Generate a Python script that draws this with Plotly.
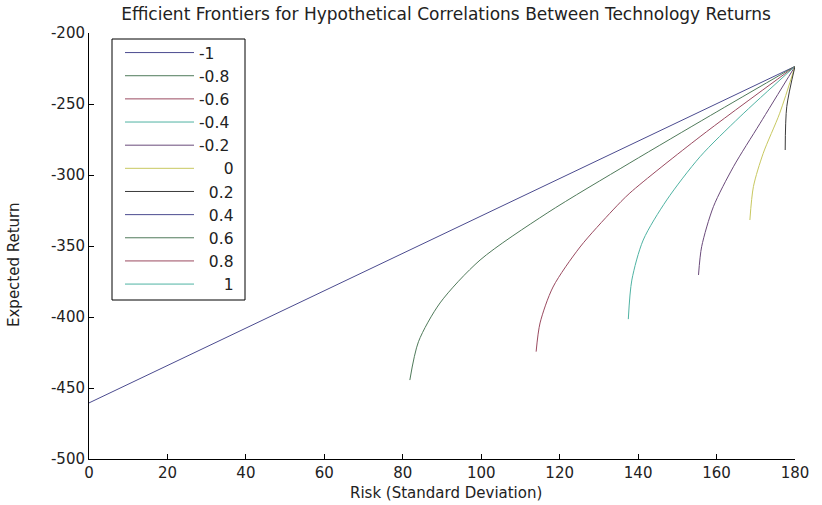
import plotly.graph_objects as go

# correlation labels (legend)
labels = ["-1", "-0.8", "-0.6", "-0.4", "-0.2", "0", "0.2", "0.4", "0.6", "0.8", "1"]
legend_text = ["-1", "-0.8", "-0.6", "-0.4", "-0.2",
               "\u00a0\u00a0\u00a0\u00a0\u00a00", "\u00a0\u00a00.2", "\u00a0\u00a00.4",
               "\u00a0\u00a00.6", "\u00a0\u00a00.8", "\u00a0\u00a0\u00a0\u00a0\u00a01"]

# axis ticks
x_ticks = [0, 20, 40, 60, 80, 100, 120, 140, 160, 180]
x_ticktext = ["0", "20", "40", "60", "80", "100", "120", "140", "160", "180"]
y_ticks = [-500, -450, -400, -350, -300, -250, -200]
y_ticktext = ["-500", "-450", "-400", "-350", "-300", "-250", "-200"]

# risk (x) and expected return (y) per correlation
risk_m10 = [0.0, 180.0]
ret_m10 = [-460.5, -223.5]
risk_m08 = [81.8, 84.0, 89.5, 99.7, 116.8, 137.9, 158.5, 180.0]
ret_m08 = [-444.4, -417.4, -390.1, -359.9, -326.8, -291.5, -258.0, -223.5]
risk_m06 = [114.0, 115.0, 118.3, 125.2, 133.6, 137.9, 155.8, 180.0]
ret_m06 = [-424.4, -404.2, -378.9, -350.7, -324.6, -312.7, -273.0, -223.5]
risk_m04 = [137.5, 138.4, 141.3, 147.3, 155.8, 166.0, 180.0]
ret_m04 = [-401.5, -374.0, -345.8, -317.6, -287.1, -258.9, -223.5]
risk_m02 = [155.4, 156.2, 159.2, 164.3, 171.1, 180.0]
ret_m02 = [-370.4, -350.5, -322.3, -294.2, -263.6, -223.5]
risk_p00 = [168.5, 169.4, 171.9, 176.1, 180.0]
ret_p00 = [-331.7, -308.2, -284.7, -256.5, -223.5]
risk_p02 = [177.5, 177.9, 180.0]
ret_p02 = [-282.4, -251.9, -223.5]
risk_p04 = [180.0]
ret_p04 = [-223.5]
risk_p06 = [180.0]
ret_p06 = [-223.5]
risk_p08 = [180.0]
ret_p08 = [-223.5]
risk_p10 = [180.0]
ret_p10 = [-223.5]

risks = [risk_m10, risk_m08, risk_m06, risk_m04, risk_m02, risk_p00,
         risk_p02, risk_p04, risk_p06, risk_p08, risk_p10]
rets = [ret_m10, ret_m08, ret_m06, ret_m04, ret_m02, ret_p00,
        ret_p02, ret_p04, ret_p06, ret_p08, ret_p10]

colors = ["#4b4b8f", "#4f7a5a", "#9a4a60", "#4fb3a3", "#6a4a7a", "#c8c860",
          "#3a3a3a", "#4b4b8f", "#4f7a5a", "#9a4a60", "#4fb3a3"]

FONT = "DejaVu Sans"
TXT = "#222"

fig = go.Figure()
for name, txt, xs, ys, c in zip(labels, legend_text, risks, rets, colors):
    fig.add_trace(go.Scatter(x=xs, y=ys, mode="lines", name=txt,
                             line=dict(color=c, width=1, shape="spline", smoothing=0.8)))

axis_common = dict(showline=True, linecolor="black", linewidth=1, mirror=False,
                   ticks="inside", ticklen=5, tickcolor="black", showgrid=False,
                   zeroline=False, automargin=False,
                   tickfont=dict(family=FONT, size=15, color=TXT))

fig.update_layout(
    width=822, height=505,
    margin=dict(l=89, r=27, t=33, b=46),
    paper_bgcolor="white", plot_bgcolor="white",
    font=dict(family=FONT, size=15, color=TXT),
    title=dict(text="Efficient Frontiers for Hypothetical Correlations Between Technology Returns",
               x=446 / 822, xanchor="center", y=1 - 14 / 505, yanchor="middle", yref="container",
               font=dict(family=FONT, size=17, color=TXT)),
    xaxis=dict(range=[0, 180], tickvals=x_ticks, ticktext=x_ticktext, **axis_common),
    yaxis=dict(range=[-500, -200], tickvals=y_ticks, ticktext=y_ticktext, **axis_common),
    legend=dict(x=(120 - 89) / 706, y=(459 - 36) / 426, xanchor="left", yanchor="top",
                borderwidth=0, bgcolor="rgba(0,0,0,0)",
                itemwidth=69, font=dict(family=FONT, size=15.5, color=TXT),
                tracegroupgap=0),
    showlegend=True,
    shapes=[dict(type="rect", xref="paper", yref="paper",
                 x0=(112 - 89) / 706, x1=(245 - 89) / 706,
                 y0=(459 - 300) / 426, y1=(459 - 39) / 426,
                 line=dict(color="black", width=1), fillcolor="white", layer="below")],
    annotations=[
        dict(text="Expected Return", xref="paper", yref="paper",
             x=(14 - 89) / 706, y=(459 - 265) / 426, xanchor="center", yanchor="middle",
             textangle=-90, showarrow=False,
             font=dict(family=FONT, size=15, color=TXT)),
        dict(text="Risk (Standard Deviation)", xref="paper", yref="paper",
             x=(446 - 89) / 706, y=-(493 - 459) / 426, xanchor="center", yanchor="middle",
             showarrow=False, font=dict(family=FONT, size=15, color=TXT)),
    ],
)

fig.write_html("out.html")
